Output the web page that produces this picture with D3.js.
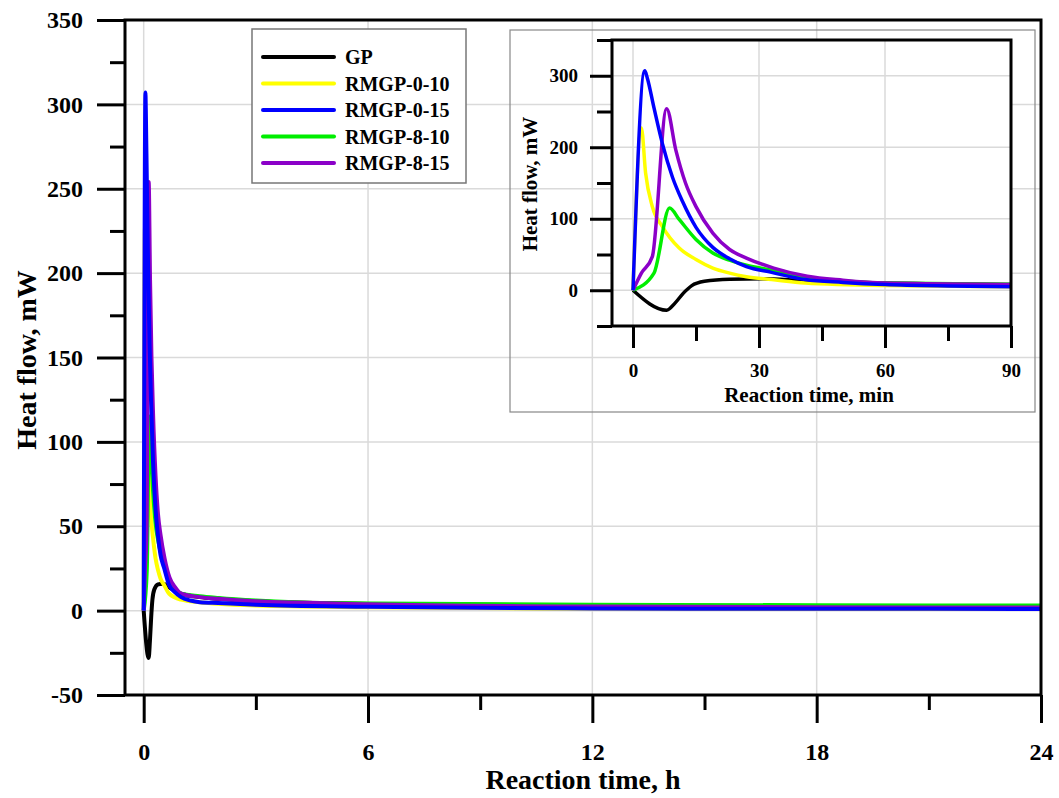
<!DOCTYPE html>
<html>
<head>
<meta charset="utf-8">
<script src="https://cdn.jsdelivr.net/npm/d3@7"></script>
<style>
    body { margin: 0; background: #fff; }
    svg { display: block; font-family: "Liberation Serif", "Times New Roman", serif; font-weight: bold; }
</style>
</head>
<body>
<svg id="chart" width="1059" height="798"></svg>
<script>
// series names, colours (legend order)
var seriesNames = ['GP', 'RMGP-0-10', 'RMGP-0-15', 'RMGP-8-10', 'RMGP-8-15'];
var seriesColors = ['#000000', '#ffff00', '#0000ff', '#00ee00', '#8b00c8'];

// reaction time in minutes, heat flow in mW
var gpTime = [0, 8, 10, 12, 14, 17, 23, 31, 40, 60, 90, 120, 180, 360, 720, 1080, 1440];
var gpFlow = [0, -28, -18, -4, 6.5, 12.5, 15.5, 16, 14, 10, 8, 7, 5.5, 4, 3, 2.7, 2.5];

var rmgp010Time = [0, 2, 3, 4.6, 7, 11, 15, 19, 23, 27, 33, 41, 60, 90, 120, 180, 360, 720, 1080, 1440];
var rmgp010Flow = [0, 227, 164, 117, 89, 59, 43, 31, 24, 19, 15, 10, 6.5, 5, 4, 3, 2, 1.2, 1, 1];

var rmgp015Time = [0, 2.8, 3.4, 5, 7, 9.4, 11.8, 15, 19, 23, 27, 33, 41, 50, 60, 75, 90, 120, 180, 360, 720, 1080, 1440];
var rmgp015Flow = [0, 307, 297, 255, 205, 158, 124, 88, 60, 44, 33, 25, 15, 11, 8, 6, 5, 4.5, 3.5, 2.3, 1.3, 1.1, 1];

var rmgp810Time = [0, 5, 8.7, 11, 15, 19, 23, 27, 33, 41, 50, 60, 90, 120, 180, 300, 720, 1080, 1440];
var rmgp810Flow = [0, 24, 115, 99, 71, 52, 42, 35, 28, 18, 13, 10, 8.5, 7.5, 6, 4.4, 3.5, 3.2, 3];

var rmgp815Time = [0, 2, 4.6, 8, 10.2, 12.5, 15, 19, 23, 27, 33.5, 41.5, 50, 60, 90, 120, 180, 360, 720, 1080, 1440];
var rmgp815Flow = [0, 24, 47, 254, 196, 150, 117, 80, 57, 45, 31, 19.5, 14, 10, 8, 7, 5.5, 3.8, 2.4, 2, 1.8];

// axis ticks
var mainXTicks = [0, 6, 12, 18, 24];
var mainYTicks = [-50, 0, 50, 100, 150, 200, 250, 300, 350];
var insetXTicks = [0, 30, 60, 90];
var insetYTicks = [0, 100, 200, 300];

var times = [gpTime, rmgp010Time, rmgp015Time, rmgp810Time, rmgp815Time],
    flows = [gpFlow, rmgp010Flow, rmgp015Flow, rmgp810Flow, rmgp815Flow],
    drawOrder = [0, 1, 3, 4, 2];

var series = seriesNames.map(function(name, i) {
    return {
        name: name,
        color: seriesColors[i],
        points: times[i].map(function(t, j) { return {t: t, v: flows[i][j]}; })
    };
});

var svg = d3.select('#chart');
var gridColor = '#dadada';

function plainNumber(d) {
    return String(d);
}

function drawPanel(g, opts) {
    var x = opts.x, y = opts.y,
        x0 = x.range()[0], x1 = x.range()[1],
        y0 = y.range()[0], y1 = y.range()[1];

    if (opts.fill) {
        g.append('rect')
            .attr('x', x0).attr('y', y1)
            .attr('width', x1 - x0).attr('height', y0 - y1)
            .attr('fill', '#fff');
    }

    // grid
    g.append('g').selectAll('line').data(opts.xGrid).enter()
        .append('line')
            .attr('x1', x).attr('x2', x)
            .attr('y1', y0).attr('y2', y1)
            .attr('stroke', gridColor).attr('stroke-width', 1.5);
    g.append('g').selectAll('line').data(opts.yGrid).enter()
        .append('line')
            .attr('x1', x0).attr('x2', x1)
            .attr('y1', y).attr('y2', y)
            .attr('stroke', gridColor).attr('stroke-width', 1.5);

    // lines
    var clipId = opts.id + '-clip';
    g.append('clipPath').attr('id', clipId)
        .append('rect')
            .attr('x', x0).attr('y', y1)
            .attr('width', x1 - x0).attr('height', y0 - y1);

    var line = d3.line()
        .x(function(d) { return x(d.t / opts.timeDiv); })
        .y(function(d) { return y(d.v); })
        .curve(d3.curveMonotoneX);

    g.append('g').attr('clip-path', 'url(#' + clipId + ')')
        .selectAll('path').data(drawOrder.map(function(i) { return series[i]; })).enter()
        .append('path')
            .attr('d', function(s) {
                return line(s.points.filter(function(p) { return p.t <= opts.maxTime; }));
            })
            .attr('fill', 'none')
            .attr('stroke', function(s) { return s.color; })
            .attr('stroke-width', opts.lineWidth)
            .attr('stroke-linejoin', 'round');

    // axes
    var yAxis = d3.axisLeft(y)
        .tickValues(opts.yMinor)
        .tickSize(opts.minorLen)
        .tickFormat('');
    g.append('g').attr('transform', 'translate(' + x0 + ',0)').call(yAxis);

    var yAxisMajor = d3.axisLeft(y)
        .tickValues(opts.yTicks)
        .tickSize(opts.majorLen)
        .tickPadding(opts.yPad)
        .tickFormat(plainNumber);
    g.append('g').attr('transform', 'translate(' + x0 + ',0)').call(yAxisMajor);

    var xAxis = d3.axisBottom(x)
        .tickValues(opts.xMinor)
        .tickSize(opts.minorLen)
        .tickFormat('');
    g.append('g').attr('transform', 'translate(0,' + y0 + ')').call(xAxis);

    var xAxisMajor = d3.axisBottom(x)
        .tickValues(opts.xTicks)
        .tickSize(opts.majorLen)
        .tickPadding(opts.xPad)
        .tickFormat(plainNumber);
    g.append('g').attr('transform', 'translate(0,' + y0 + ')').call(xAxisMajor);

    g.selectAll('.domain').remove();
    g.selectAll('.tick line').attr('stroke', '#000').attr('stroke-width', opts.frameWidth);
    g.selectAll('.tick text')
        .attr('fill', '#000')
        .style('font-family', '"Liberation Serif", serif')
        .style('font-weight', 'bold')
        .style('font-size', opts.tickFont + 'px');

    // frame
    g.append('rect')
        .attr('x', x0).attr('y', y1)
        .attr('width', x1 - x0).attr('height', y0 - y1)
        .attr('fill', 'none')
        .attr('stroke', '#000')
        .attr('stroke-width', opts.frameWidth);

    // titles
    g.append('text')
        .attr('x', opts.xTitle[0]).attr('y', opts.xTitle[1])
        .attr('text-anchor', 'middle')
        .style('font-size', opts.titleFont + 'px')
        .text(opts.xLabel);
    g.append('text')
        .attr('transform', 'translate(' + opts.yTitle[0] + ',' + opts.yTitle[1] + ') rotate(-90)')
        .attr('text-anchor', 'middle')
        .style('font-size', opts.titleFont + 'px')
        .text(opts.yLabel);
}

// main chart
var mainX = d3.scaleLinear().domain([-0.5, 24]).range([125, 1041]);
var mainY = d3.scaleLinear().domain([-50, 350]).range([695, 20]);

drawPanel(svg.append('g'), {
    id: 'main',
    x: mainX, y: mainY,
    timeDiv: 60, maxTime: 1440,
    xGrid: [0, 6, 12, 18], yGrid: [0, 50, 100, 150, 200, 250, 300],
    xTicks: mainXTicks, xMinor: [3, 9, 15, 21],
    yTicks: mainYTicks, yMinor: [-25, 25, 75, 125, 175, 225, 275, 325],
    majorLen: 28, minorLen: 15, yPad: 14, xPad: 20,
    tickFont: 24, titleFont: 28, lineWidth: 4, frameWidth: 3,
    xLabel: 'Reaction time, h', xTitle: [583, 789],
    yLabel: 'Heat flow, mW', yTitle: [36, 360],
    fill: false
});

// legend
var legend = svg.append('g');
legend.append('rect')
    .attr('x', 252).attr('y', 29)
    .attr('width', 214).attr('height', 154)
    .attr('fill', '#fff')
    .attr('stroke', '#777')
    .attr('stroke-width', 1.5);

var rows = legend.selectAll('g.row').data(series).enter()
    .append('g')
        .attr('class', 'row')
        .attr('transform', function(d, i) { return 'translate(263,' + (57 + i * 26.5) + ')'; });
rows.append('line')
    .attr('x1', 0).attr('x2', 71)
    .attr('stroke', function(d) { return d.color; })
    .attr('stroke-width', 4)
    .attr('stroke-linecap', 'round');
rows.append('text')
    .attr('x', 82).attr('y', 7)
    .style('font-size', '20px')
    .text(function(d) { return d.name; });

// inset
svg.append('rect')
    .attr('x', 510).attr('y', 30)
    .attr('width', 525).attr('height', 382)
    .attr('fill', 'none')
    .attr('stroke', '#888')
    .attr('stroke-width', 1.2);

var insetX = d3.scaleLinear().domain([-5, 90]).range([612, 1011]);
var insetY = d3.scaleLinear().domain([-50, 350]).range([326, 40]);

drawPanel(svg.append('g'), {
    id: 'inset',
    x: insetX, y: insetY,
    timeDiv: 1, maxTime: 120,
    xGrid: [0, 30, 60], yGrid: [0, 100, 200, 300],
    xTicks: insetXTicks, xMinor: [15, 45, 75],
    yTicks: insetYTicks, yMinor: [-50, 50, 150, 250, 350],
    majorLen: 22, minorLen: 15, yPad: 12, xPad: 16,
    tickFont: 19, titleFont: 21, lineWidth: 3.5, frameWidth: 3,
    xLabel: 'Reaction time, min', xTitle: [809, 402],
    yLabel: 'Heat flow, mW', yTitle: [537, 184],
    fill: true
});
</script>
</body>
</html>
